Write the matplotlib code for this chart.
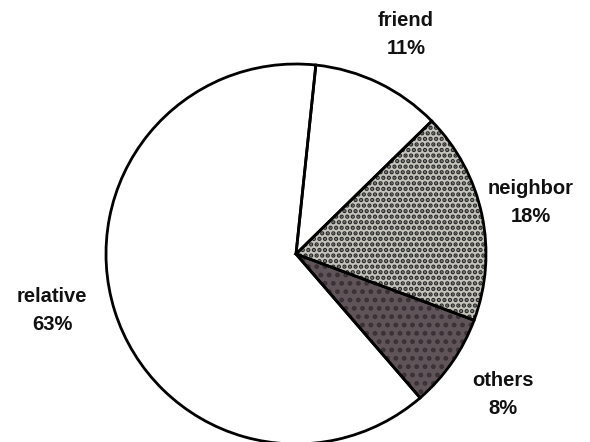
import matplotlib
matplotlib.use("Agg")
import matplotlib.pyplot as plt

plt.rcParams['font.family'] = ['Liberation Sans', 'DejaVu Sans']
plt.rcParams['hatch.linewidth'] = 2.2

categories = ["friend", "neighbor", "others", "relative"]
shares = [11, 18, 8, 63]
face_colors = ["#ffffff", "#c4c4bc", "#5f5559", "#ffffff"]
hatches = [None, "...", "..", None]
hatch_colors = [None, "#262626", "#3a3035", None]

# label anchor points in pixel space (x, y from top)
label_pos = {
    "friend": (406, 35),
    "neighbor": (531, 203),
    "others": (503, 394),
    "relative": (52, 310),
}

W, H = 590, 442
fig = plt.figure(figsize=(W / 100, H / 100), dpi=100)
ax = fig.add_axes([0, 0, 1, 1])

cx, cy, r = 296, H - 254, 190

# filled wedges with dotted texture
fills, _ = ax.pie(shares, startangle=84, counterclock=False, center=(cx, cy),
                  radius=r, colors=face_colors,
                  wedgeprops=dict(linewidth=0))
for w, h, hc in zip(fills, hatches, hatch_colors):
    if h:
        w.set_hatch(h)
        w.set_edgecolor(hc)
        w.set_linewidth(0)

# black outlines on top
outlines, _ = ax.pie(shares, startangle=84, counterclock=False, center=(cx, cy),
                     radius=r, colors=["none"] * len(shares),
                     wedgeprops=dict(edgecolor="black", linewidth=2.0, fill=False))

for cat, val in zip(categories, shares):
    x, y = label_pos[cat]
    ax.text(x, H - y, f"{cat}\n{val}%", ha="center", va="center",
            fontsize=14.5, fontweight="bold", color="#111111", linespacing=1.6)

ax.set_xlim(0, W)
ax.set_ylim(0, H)
ax.set_aspect("equal")
ax.axis("off")

fig.savefig("out.png", dpi=100, facecolor="white")
